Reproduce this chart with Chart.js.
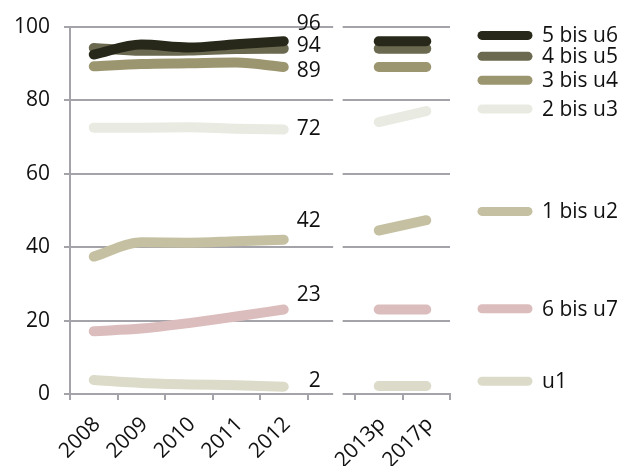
<!DOCTYPE html>
<html>
<head>
<meta charset="utf-8">
<script src="https://cdn.jsdelivr.net/npm/chart.js@4.4.1/dist/chart.umd.min.js"></script>
<style>
  html, body { margin: 0; padding: 0; background: #fff; }
  #wrap { width: 628px; height: 466px; }
</style>
</head>
<body>
<div id="wrap"><canvas id="chart" width="628" height="466"></canvas></div>
<script>
// Jahre: Ist-Werte und Prognose
const pastYears = ['2008', '2009', '2010', '2011', '2012'];
const projYears = ['2013p', '2017p'];

// Altersgruppen (Reihenfolge wie in der Legende)
const groups = ['5 bis u6', '4 bis u5', '3 bis u4', '2 bis u3', '1 bis u2', '6 bis u7', 'u1'];

// Quoten in %, 2008-2012
const age5Past = [92.4, 95.1, 94.3, 95.2, 96];
const age4Past = [94.2, 93.4, 93.5, 93.9, 94];
const age3Past = [89.2, 89.8, 90.0, 90.2, 89];
const age2Past = [72.5, 72.5, 72.6, 72.2, 72];
const age1Past = [37.4, 41.3, 41.2, 41.6, 42];
const age6Past = [17.1, 17.8, 19.3, 21.1, 23];
const age0Past = [3.8, 3.0, 2.6, 2.4, 2];

// Prognose 2013p / 2017p
const age5Proj = [96, 96];
const age4Proj = [94, 94];
const age3Proj = [89, 89];
const age2Proj = [74, 77];
const age1Proj = [44.5, 47.3];
const age6Proj = [23, 23];
const age0Proj = [2.2, 2.2];

const yTicks = [0, 20, 40, 60, 80, 100];

const pastSeries = [age5Past, age4Past, age3Past, age2Past, age1Past, age6Past, age0Past];
const projSeries = [age5Proj, age4Proj, age3Proj, age2Proj, age1Proj, age6Proj, age0Proj];

const colors = ['#28281a', '#6b6a50', '#9c9670', '#e9eae1', '#c4c0a1', '#dcbdbd', '#dcdac9'];
// vertical offset of the end value label, px
const labelDy = [-17, -3, 4, 0, -19, -14, -6];
// legend rows, in axis units
const legendRows = [97.6, 91.9, 85.4, 77.6, 49.7, 23.2, 3.5];

// x positions on the shared linear axis: past years 0..4, projections 6..7
const projStart = pastYears.length + 1;
const tickLabels = {};
pastYears.forEach((y, i) => { tickLabels[i - 0.5] = y; });
projYears.forEach((y, i) => { tickLabels[projStart + i - 0.5] = y; });
const tickValues = [];
for (let v = -0.5; v <= projStart + projYears.length - 0.5; v += 1) tickValues.push(v);

const lineStyle = (i) => ({
  borderColor: colors[i],
  backgroundColor: colors[i],
  borderWidth: 10,
  borderCapStyle: 'round',
  borderJoinStyle: 'round',
  pointRadius: 0,
  pointHoverRadius: 0,
  fill: false
});

const datasets = [];
groups.forEach((g, i) => {
  datasets.push(Object.assign(lineStyle(i), {
    label: g,
    data: pastSeries[i].map((v, k) => ({ x: k, y: v })),
    cubicInterpolationMode: 'monotone',
    showValue: true,
    labelDy: labelDy[i],
    order: i
  }));
  datasets.push(Object.assign(lineStyle(i), {
    label: g + ' (p)',
    data: projSeries[i].map((v, k) => ({ x: projStart + k, y: v })),
    tension: 0,
    order: i
  }));
});

const FONT = { family: "'Open Sans', sans-serif", size: 21 };
const TEXT = '#111111';
const GRID = '#a4a3aa';

// break in the frame between the two periods
const panelGap = {
  id: 'panelGap',
  beforeDatasetsDraw(chart) {
    const { ctx, chartArea, scales: { x } } = chart;
    const x0 = x.getPixelForValue(pastYears.length + 0.04);
    const x1 = x.getPixelForValue(pastYears.length + 0.24);
    ctx.save();
    ctx.fillStyle = '#ffffff';
    ctx.fillRect(x0, chartArea.top - 3, x1 - x0, chartArea.bottom - chartArea.top + 6);
    ctx.restore();
  }
};

// 2012 values next to the line ends
const endValues = {
  id: 'endValues',
  afterDatasetsDraw(chart) {
    const { ctx } = chart;
    ctx.save();
    ctx.font = `${FONT.size}px ${FONT.family}`;
    ctx.fillStyle = TEXT;
    ctx.textAlign = 'right';
    ctx.textBaseline = 'middle';
    chart.data.datasets.forEach((ds, i) => {
      if (!ds.showValue) return;
      const meta = chart.getDatasetMeta(i);
      const last = meta.data[meta.data.length - 1];
      const val = ds.data[ds.data.length - 1].y;
      ctx.fillText(String(Math.round(val)), last.x + 37, last.y + ds.labelDy);
    });
    ctx.restore();
  }
};

// legend on the right side
const sideLegend = {
  id: 'sideLegend',
  afterDraw(chart) {
    const { ctx, chartArea, scales: { y } } = chart;
    const sx0 = chartArea.right + 32;
    const sx1 = sx0 + 46;
    ctx.save();
    ctx.font = `${FONT.size}px ${FONT.family}`;
    ctx.textAlign = 'left';
    ctx.textBaseline = 'middle';
    groups.forEach((g, i) => {
      const py = y.getPixelForValue(legendRows[i]);
      ctx.strokeStyle = colors[i];
      ctx.lineWidth = 9;
      ctx.lineCap = 'round';
      ctx.beginPath();
      ctx.moveTo(sx0, py);
      ctx.lineTo(sx1, py);
      ctx.stroke();
      ctx.fillStyle = TEXT;
      ctx.fillText(g, sx1 + 14, py + 1);
    });
    ctx.restore();
  }
};

new Chart(document.getElementById('chart'), {
  type: 'line',
  data: { datasets },
  options: {
    responsive: false,
    animation: false,
    events: [],
    layout: { padding: { left: 0, right: 178, top: 24, bottom: 0 } },
    plugins: {
      legend: { display: false },
      tooltip: { enabled: false }
    },
    scales: {
      x: {
        type: 'linear',
        min: -0.5,
        max: projStart + projYears.length - 0.5,
        afterBuildTicks: (scale) => { scale.ticks = tickValues.map(v => ({ value: v })); },
        afterFit: (scale) => { scale.height = 72; },
        grid: { drawOnChartArea: false, color: GRID, lineWidth: 2, tickLength: 6 },
        border: { color: GRID, width: 2 },
        ticks: {
          autoSkip: false,
          minRotation: 45,
          maxRotation: 45,
          labelOffset: 27,
          padding: 12,
          font: FONT,
          color: TEXT,
          callback: (v) => tickLabels[v] || ''
        }
      },
      y: {
        min: 0,
        max: 100,
        afterBuildTicks: (scale) => { scale.ticks = yTicks.map(v => ({ value: v })); },
        afterFit: (scale) => { scale.width = 70; },
        grid: { color: GRID, lineWidth: 2, tickLength: 6 },
        border: { color: GRID, width: 2 },
        ticks: { padding: 14, font: FONT, color: TEXT }
      }
    }
  },
  plugins: [panelGap, endValues, sideLegend]
});
</script>
</body>
</html>
